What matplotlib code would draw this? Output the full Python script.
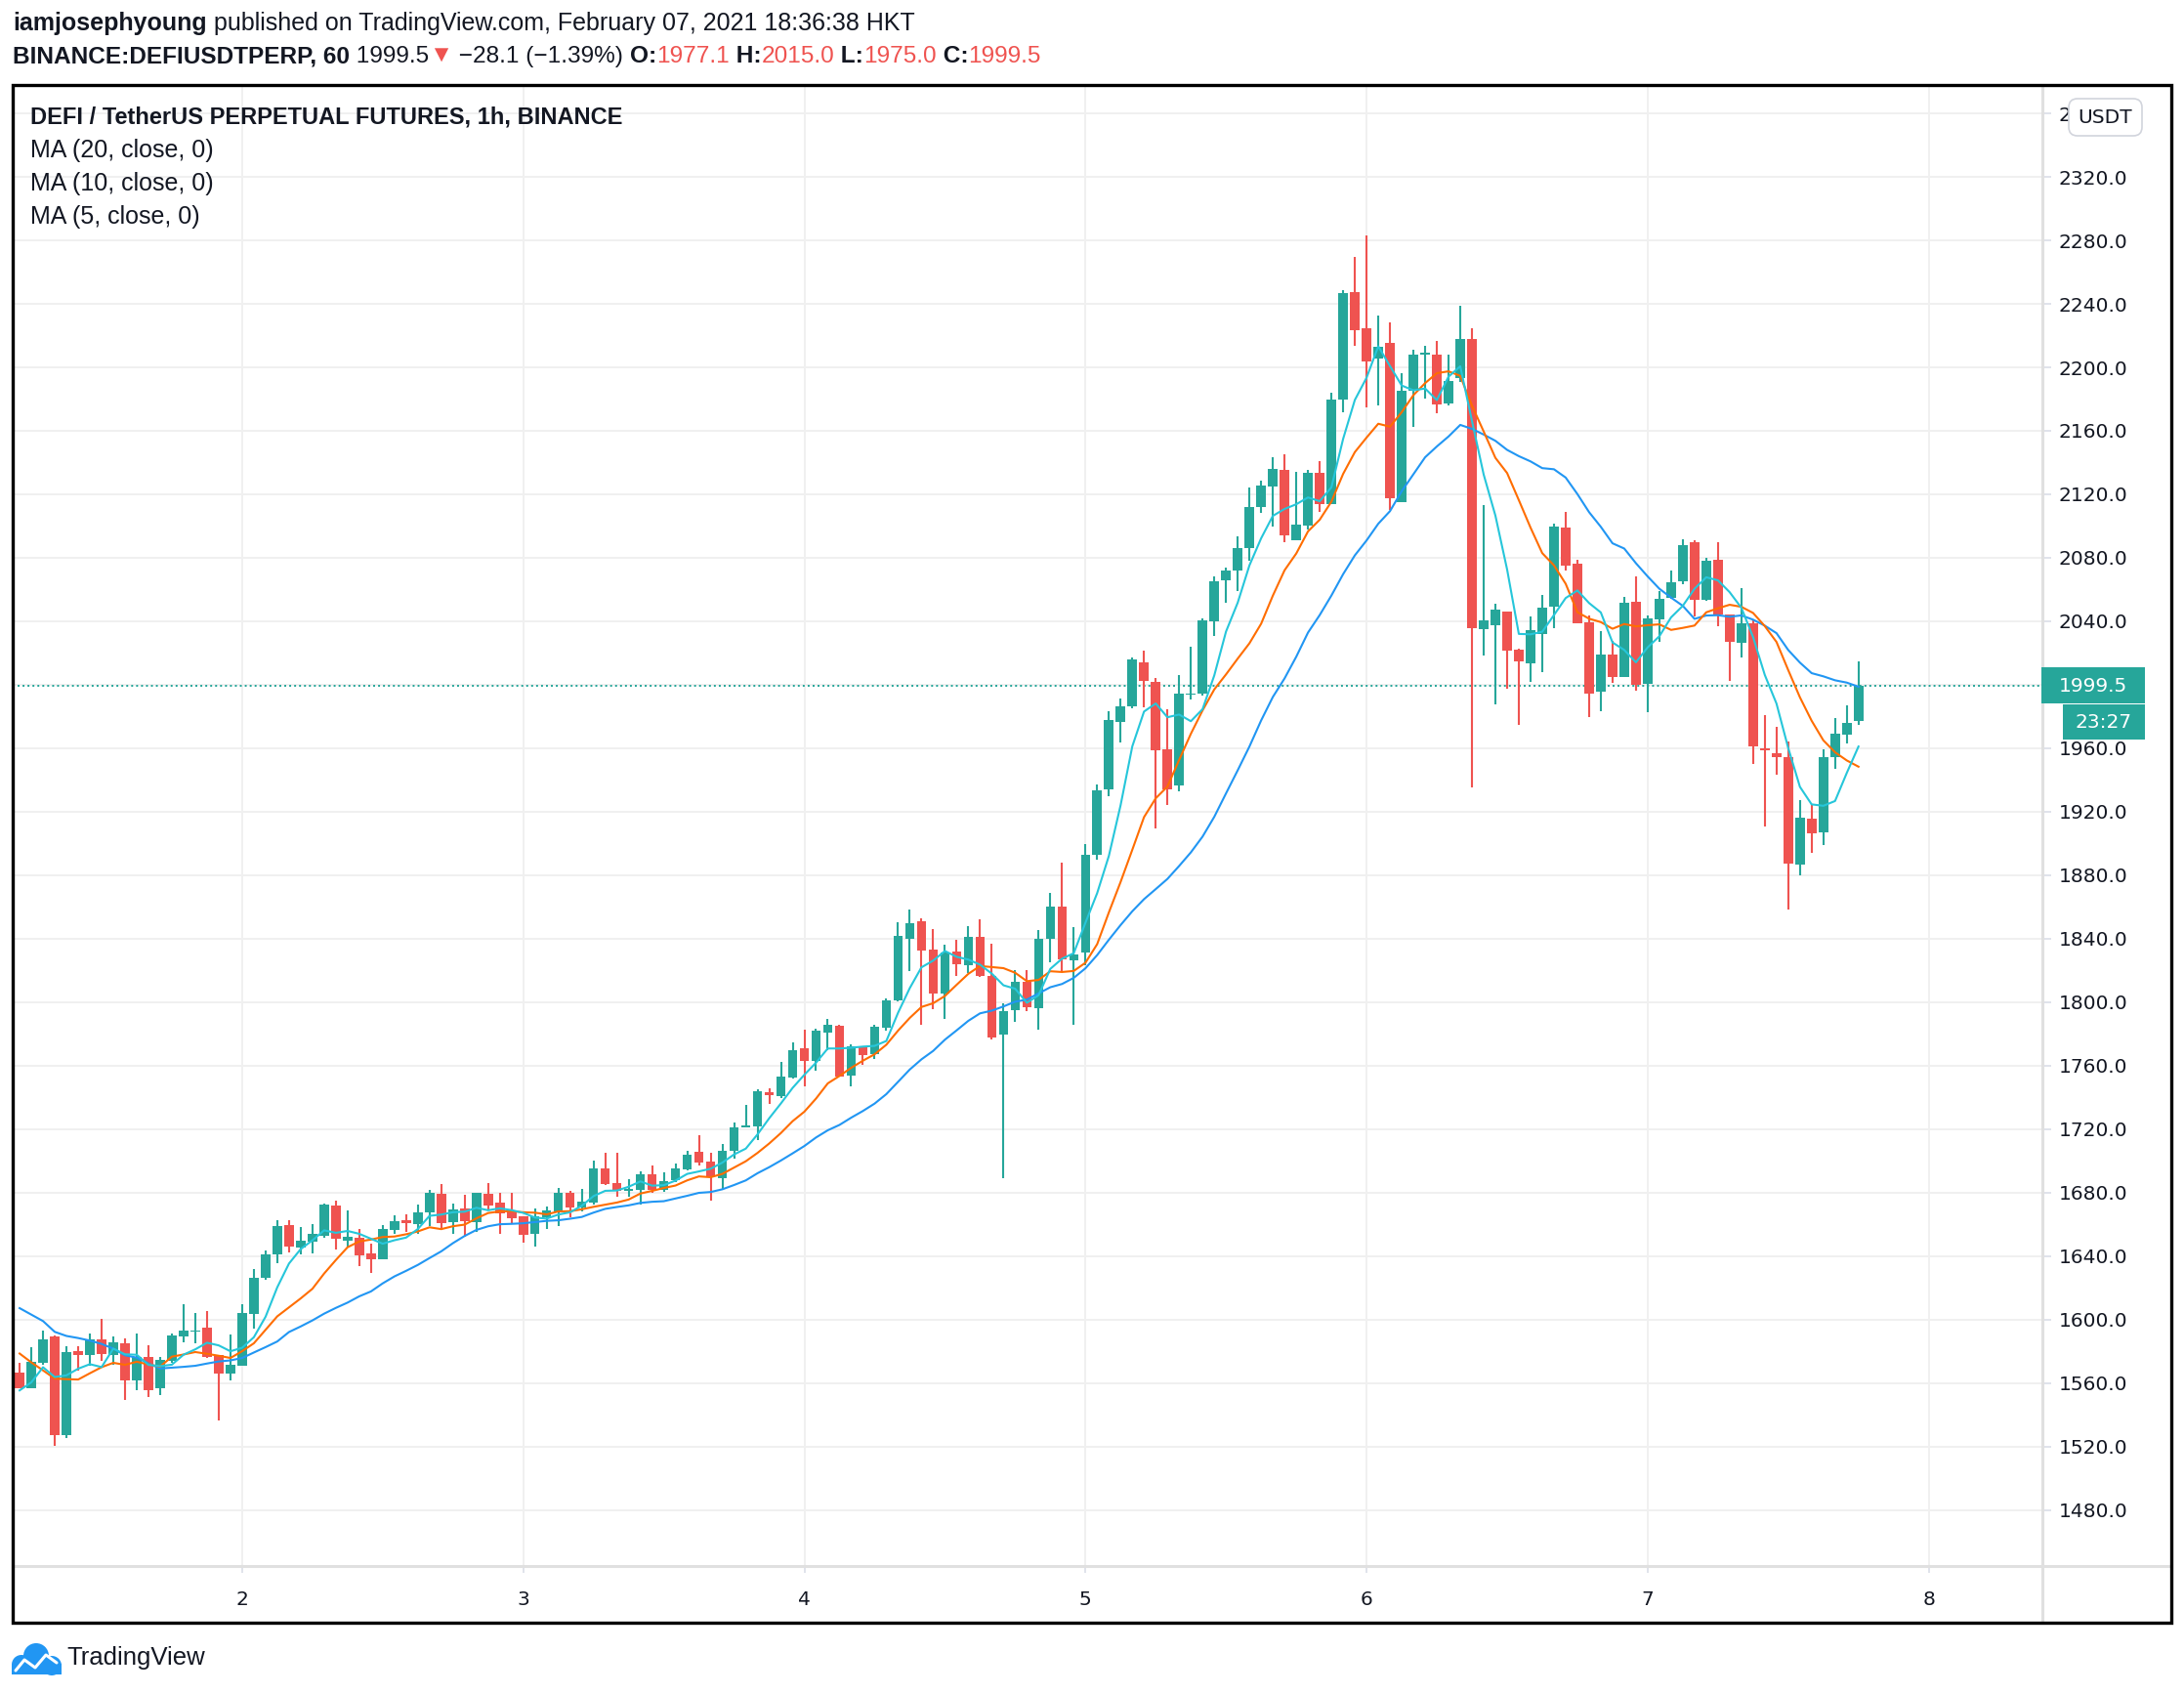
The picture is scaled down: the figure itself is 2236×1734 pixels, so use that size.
import numpy as np
import pandas as pd
import matplotlib
matplotlib.use("Agg")
import matplotlib.pyplot as plt
from matplotlib import font_manager
from matplotlib.patches import Rectangle, FancyBboxPatch, Circle
from matplotlib.lines import Line2D

W, H = 2236, 1734

names = {f.name for f in font_manager.fontManager.ttflist}
HEAD = 'Liberation Sans Narrow' if 'Liberation Sans Narrow' in names else 'Liberation Sans'
plt.rcParams['font.family'] = [HEAD, 'DejaVu Sans']

GREEN = '#26a69a'
RED = '#ef5350'
INK = '#131722'

# hourly candles, hours counted from Feb 2 00:00 (first candle = Feb 1 05:00)
first_hour = -19

opens = [
    1566.5, 1557.0, 1572.9, 1589.3, 1527.3, 1579.9, 1577.8, 1587.5, 1577.8, 1585.0,
    1561.4, 1576.4, 1556.9, 1574.1, 1589.5, 1592.2, 1594.9, 1577.4, 1566.1, 1571.0,
    1603.7, 1626.5, 1640.8, 1659.5, 1645.5, 1649.2, 1652.7, 1671.8, 1649.9, 1651.7,
    1641.6, 1638.2, 1656.6, 1662.6, 1660.3, 1667.7, 1679.2, 1661.6, 1670.0, 1661.6,
    1679.2, 1673.7, 1668.1, 1665.0, 1654.2, 1664.4, 1668.1, 1679.8, 1670.6, 1673.9,
    1695.3, 1686.0, 1681.0, 1681.4, 1691.3, 1681.8, 1688.0, 1694.8, 1705.5, 1699.3,
    1689.2, 1706.5, 1721.3, 1721.9, 1743.1, 1740.8, 1752.5, 1771.0, 1763.2, 1781.1,
    1785.2, 1753.9, 1771.6, 1767.3, 1783.9, 1801.2, 1840.2, 1851.1, 1833.2, 1805.7,
    1832.0, 1823.0, 1841.2, 1816.2, 1779.4, 1795.1, 1812.8, 1796.2, 1839.7, 1860.4,
    1826.2, 1831.0, 1892.7, 1933.8, 1976.6, 1986.2, 2013.8, 2001.5, 1959.3, 1936.4,
    1993.7, 1994.1, 2040.0, 2065.8, 2071.9, 2085.9, 2112.1, 2124.8, 2135.6, 2091.0,
    2100.2, 2133.8, 2113.9, 2179.8, 2247.4, 2224.6, 2205.4, 2215.4, 2115.1, 2185.3,
    2207.9, 2208.1, 2177.0, 2193.1, 2217.9, 2035.3, 2037.7, 2045.9, 2022.2, 2013.7,
    2032.2, 2049.4, 2099.1, 2076.3, 2039.4, 1995.9, 2019.1, 2005.1, 2052.3, 2000.8,
    2041.4, 2055.0, 2065.2, 2089.8, 2053.7, 2078.8, 2044.5, 2026.7, 2039.0, 1960.0,
    1956.9, 1954.5, 1886.4, 1915.5, 1907.1, 1954.1, 1968.8, 1977.1,
]
highs = [
    1572.7, 1582.5, 1593.0, 1590.0, 1583.0, 1583.0, 1591.2, 1600.4, 1589.1, 1588.1,
    1591.2, 1583.8, 1576.4, 1591.2, 1609.7, 1604.1, 1605.3, 1577.4, 1590.6, 1609.7,
    1631.8, 1643.5, 1662.6, 1662.6, 1658.3, 1659.9, 1673.1, 1674.9, 1668.8, 1657.0,
    1647.8, 1659.3, 1665.5, 1666.1, 1672.5, 1681.7, 1685.4, 1673.1, 1678.6, 1679.8,
    1686.0, 1679.8, 1679.8, 1665.0, 1669.8, 1671.2, 1682.9, 1681.1, 1682.1, 1700.0,
    1705.1, 1705.1, 1688.2, 1693.4, 1697.0, 1692.7, 1698.3, 1706.3, 1716.2, 1705.1,
    1710.6, 1724.2, 1735.3, 1745.1, 1745.5, 1762.4, 1774.7, 1782.7, 1783.3, 1789.5,
    1785.8, 1773.5, 1772.2, 1785.8, 1802.4, 1850.5, 1858.5, 1852.9, 1846.2, 1836.3,
    1839.4, 1848.1, 1852.4, 1836.9, 1799.2, 1820.1, 1820.1, 1845.3, 1869.0, 1888.1,
    1847.4, 1899.7, 1937.2, 1983.4, 1991.4, 2016.9, 2021.4, 2004.0, 1984.5, 2006.0,
    2023.8, 2041.6, 2068.0, 2073.6, 2093.5, 2124.0, 2128.3, 2143.6, 2145.3, 2134.4,
    2135.4, 2140.7, 2183.7, 2248.6, 2269.7, 2283.2, 2232.8, 2228.5, 2196.0, 2211.3,
    2213.6, 2216.9, 2208.3, 2239.0, 2224.8, 2113.1, 2050.9, 2046.0, 2022.6, 2043.1,
    2056.6, 2101.5, 2108.9, 2078.8, 2043.7, 2033.8, 2027.7, 2055.4, 2068.3, 2043.7,
    2059.1, 2072.2, 2091.7, 2091.3, 2080.0, 2089.8, 2044.5, 2060.9, 2041.0, 1980.9,
    1973.5, 1964.1, 1927.2, 1925.1, 1959.4, 1979.1, 1987.1, 2015.0,
]
lows = [
    1556.5, 1557.0, 1571.2, 1520.3, 1525.4, 1568.0, 1570.6, 1574.1, 1571.2, 1549.5,
    1555.6, 1551.3, 1552.6, 1572.7, 1585.6, 1585.2, 1575.8, 1536.5, 1561.8, 1571.0,
    1594.2, 1625.0, 1635.7, 1642.5, 1640.8, 1641.8, 1651.7, 1644.3, 1645.5, 1633.8,
    1629.5, 1638.2, 1654.2, 1655.4, 1653.8, 1659.1, 1657.0, 1654.2, 1652.3, 1655.0,
    1669.0, 1653.8, 1660.3, 1648.6, 1646.2, 1656.8, 1659.1, 1664.6, 1668.1, 1672.7,
    1685.0, 1677.3, 1677.3, 1672.2, 1680.0, 1680.4, 1686.6, 1694.2, 1697.3, 1674.9,
    1682.1, 1701.6, 1721.3, 1713.3, 1735.9, 1739.6, 1751.9, 1747.0, 1756.8, 1769.8,
    1753.1, 1747.0, 1760.5, 1764.2, 1782.3, 1800.8, 1819.7, 1786.0, 1795.8, 1789.7,
    1816.6, 1818.5, 1816.0, 1776.4, 1689.3, 1787.3, 1794.2, 1782.5, 1824.9, 1819.2,
    1785.5, 1823.0, 1889.5, 1929.5, 1963.4, 1985.3, 1985.9, 1909.3, 1924.5, 1932.7,
    1990.6, 1993.3, 2030.6, 2051.5, 2058.8, 2078.0, 2108.0, 2099.6, 2090.0, 2091.0,
    2097.8, 2109.0, 2113.9, 2171.6, 2213.4, 2174.7, 2176.1, 2110.2, 2115.0, 2162.4,
    2180.2, 2171.0, 2176.1, 2190.5, 1935.5, 2018.5, 1987.7, 1997.7, 1974.4, 2002.0,
    2008.2, 2035.9, 2072.2, 2039.0, 1979.9, 1983.6, 2001.4, 2005.0, 1996.5, 1982.4,
    2027.3, 2054.0, 2063.6, 2043.1, 2052.9, 2037.1, 2002.1, 2017.4, 1949.8, 1910.4,
    1943.6, 1858.1, 1880.2, 1893.8, 1899.1, 1946.7, 1962.7, 1975.0,
]
closes = [
    1556.9, 1573.3, 1587.5, 1527.3, 1579.3, 1577.8, 1587.5, 1578.4, 1585.4, 1561.4,
    1576.4, 1555.6, 1574.5, 1589.9, 1593.0, 1593.2, 1576.4, 1566.1, 1571.4, 1604.1,
    1626.3, 1641.0, 1658.9, 1646.2, 1649.7, 1653.8, 1672.5, 1651.1, 1652.1, 1640.6,
    1638.2, 1657.0, 1662.0, 1660.5, 1667.5, 1679.8, 1661.0, 1669.4, 1662.2, 1679.8,
    1672.0, 1667.1, 1663.6, 1653.6, 1665.0, 1668.8, 1679.8, 1670.8, 1674.3, 1695.3,
    1685.4, 1680.8, 1682.5, 1691.3, 1681.8, 1687.0, 1695.2, 1703.6, 1699.1, 1690.3,
    1706.3, 1720.9, 1721.9, 1743.9, 1741.2, 1753.1, 1769.8, 1763.2, 1782.1, 1785.8,
    1753.1, 1772.2, 1766.7, 1784.5, 1801.2, 1841.9, 1849.9, 1832.2, 1805.7, 1831.4,
    1823.6, 1841.2, 1816.2, 1777.5, 1794.6, 1812.8, 1796.9, 1840.1, 1860.4, 1826.7,
    1830.1, 1892.9, 1933.4, 1977.7, 1986.2, 2015.7, 2002.5, 1958.9, 1934.3, 1994.7,
    1994.7, 2040.4, 2065.4, 2072.2, 2085.9, 2112.1, 2125.8, 2136.0, 2094.1, 2100.6,
    2133.6, 2113.9, 2179.8, 2246.7, 2223.2, 2203.6, 2213.0, 2117.6, 2185.3, 2208.1,
    2209.3, 2176.5, 2191.5, 2217.9, 2035.9, 2040.4, 2047.2, 2021.7, 2015.0, 2034.5,
    2048.6, 2099.7, 2075.3, 2039.0, 1994.7, 2019.1, 2005.1, 2051.7, 2000.0, 2041.8,
    2054.2, 2064.6, 2088.0, 2053.7, 2078.1, 2044.5, 2027.3, 2038.8, 1961.4, 1959.0,
    1954.1, 1887.6, 1916.3, 1906.1, 1954.5, 1969.2, 1976.0, 1999.5,
]
# closes of the 19 hours before the window, inferred from where the MA lines start
prev_closes = [1655, 1669, 1663, 1631, 1604, 1620, 1620, 1645, 1645, 1606,
               1629, 1638, 1579, 1583, 1580, 1548, 1540, 1558, 1574]

ma_periods = [20, 10, 5]
ma_colors = ['#2196f3', '#ff6d00', '#26c6da']
day_ticks = [0, 24, 48, 72, 96, 120, 144]
day_labels = ['2', '3', '4', '5', '6', '7', '8']
price_ticks = list(range(1480, 2400, 40))

hours = np.arange(first_hour, first_hour + len(closes))
o = np.array(opens)
h = np.array(highs)
l = np.array(lows)
c = np.array(closes)
col = np.where(c >= o, GREEN, RED)


def fx(px):
    return px / W


def fy(py):
    return 1 - py / H


fig = plt.figure(figsize=(W / 100, H / 100), dpi=100)
fig.patch.set_facecolor('white')

ax = fig.add_axes([fx(13), fy(1603), (2091 - 13) / W, (1603 - 87) / H])
ax.set_xlim(-19.59, 153.7)
ax.set_ylim(1444.7, 2377.9)

# the top label sits under the USDT badge, only its first digit shows
ylabels = ['%.1f' % p for p in price_ticks]
ylabels[-1] = ylabels[-1][0]
ax.set_yticks(price_ticks)
ax.set_yticklabels(ylabels)
ax.set_xticks(day_ticks)
ax.set_xticklabels(day_labels)
ax.grid(color='#f0f0f0', lw=1.4, zorder=0)
ax.set_axisbelow(True)
ax.yaxis.tick_right()
ax.tick_params(axis='y', length=6.5, width=1.4, color='#e0e3eb', pad=5.5,
               labelsize=14.5, labelcolor=INK, labelfontfamily='DejaVu Sans')
ax.tick_params(axis='x', length=5, width=1.4, color='#e0e3eb', pad=13,
               labelsize=14.5, labelcolor=INK, labelfontfamily='DejaVu Sans')
for s in ax.spines.values():
    s.set_visible(False)

# candles
ax.vlines(hours, l, h, colors=col, lw=1.5, zorder=3)
body = np.maximum(np.abs(c - o), 0.9)
ax.bar(hours, body, bottom=np.minimum(o, c), width=0.8, color=col, lw=0, zorder=4)

# moving averages
allc = pd.Series(prev_closes + closes)
for n, mc in zip(ma_periods, ma_colors):
    ma = allc.rolling(n).mean().iloc[len(prev_closes):].values
    ax.plot(hours, ma, color=mc, lw=1.5, zorder=5)

# last price line
ax.axhline(closes[-1], color=GREEN, lw=1.4, ls=(0, (1, 1.6)), zorder=2)

# frame and separators
fig.add_artist(Line2D([fx(13), fx(2223)], [fy(1603), fy(1603)], color='#e0e0e0', lw=2.2))
fig.add_artist(Line2D([fx(2091), fx(2091)], [fy(87), fy(1661)], color='#e0e0e0', lw=2.2))
fig.add_artist(Rectangle((fx(13), fy(1661)), (2223 - 13) / W, (1661 - 87) / H,
                         transform=fig.transFigure, fill=False, ec='black', lw=2.4, zorder=20))

# price tags on the scale
fig.add_artist(Rectangle((fx(2090), fy(720)), 106 / W, 37 / H, transform=fig.transFigure,
                         fc=GREEN, ec='none', zorder=10))
fig.text(fx(2143), fy(702), '%.1f' % closes[-1], color='white', fontsize=14.5,
         family='DejaVu Sans', ha='center', va='center', zorder=11)
fig.add_artist(Rectangle((fx(2112), fy(757)), 84 / W, 36 / H, transform=fig.transFigure,
                         fc=GREEN, ec='none', zorder=10))
fig.text(fx(2154), fy(739), '23:27', color='white', fontsize=14.5,
         family='DejaVu Sans', ha='center', va='center', zorder=11)

# USDT badge
fig.add_artist(FancyBboxPatch((fx(2118), fy(139)), 75 / W, 38 / H,
                              boxstyle='round,pad=0,rounding_size=0.004',
                              transform=fig.transFigure, fc='white', ec='#d1d4dc',
                              lw=1.2, zorder=10, mutation_aspect=W / H))
fig.text(fx(2155.5), fy(120), 'USDT', color=INK, fontsize=14.5,
         family='DejaVu Sans', ha='center', va='center', zorder=11)

# header lines built piece by piece
renderer = fig.canvas.get_renderer()


def run_text(x, y, parts, size):
    for s, w, cl in parts:
        t = fig.text(fx(x), fy(y), s, fontsize=size, fontweight=w, color=cl,
                     ha='left', va='center')
        x += t.get_window_extent(renderer=renderer).width


run_text(13, 24, [('iamjosephyoung', 'bold', INK),
                  (' published on TradingView.com, February 07, 2021 18:36:38 HKT', 'normal', INK)], 18)
run_text(13, 58, [('BINANCE:DEFIUSDTPERP, 60', 'bold', INK),
                  (' 1999.5', 'normal', INK),
                  ('\u25bc', 'normal', RED),
                  (' \u221228.1 (\u22121.39%) ', 'normal', INK),
                  ('O:', 'bold', INK), ('1977.1', 'normal', RED),
                  (' H:', 'bold', INK), ('2015.0', 'normal', RED),
                  (' L:', 'bold', INK), ('1975.0', 'normal', RED),
                  (' C:', 'bold', INK), ('1999.5', 'normal', RED)], 17.6)

fig.text(fx(31), fy(120), 'DEFI / TetherUS PERPETUAL FUTURES, 1h, BINANCE', fontsize=17,
         fontweight='bold', color=INK, ha='left', va='center')
for i, n in enumerate(ma_periods):
    fig.text(fx(31), fy(154 + 34 * i), 'MA (%d, close, 0)' % n, fontsize=18,
             color=INK, ha='left', va='center')

# TradingView logo
lax = fig.add_axes([fx(8), fy(1718), 58 / W, 40 / H])
lax.set_xlim(8, 66)
lax.set_ylim(1718, 1678)
lax.axis('off')
for cx, cy, r in [(22, 1704, 10), (37, 1695, 13), (53, 1705, 10)]:
    lax.add_patch(Circle((cx, cy), r, fc='#2196f3', ec='none'))
lax.add_patch(Rectangle((12, 1703), 51, 11, fc='#2196f3', ec='none'))
lax.plot([16, 25, 36, 47, 58], [1710, 1699, 1707, 1694, 1702], color='white', lw=2.2,
         solid_capstyle='round')
fig.text(fx(68), fy(1697), 'TradingView', fontsize=18.5, color=INK, ha='left', va='center')

fig.savefig('out.png', dpi=100, facecolor='white')
